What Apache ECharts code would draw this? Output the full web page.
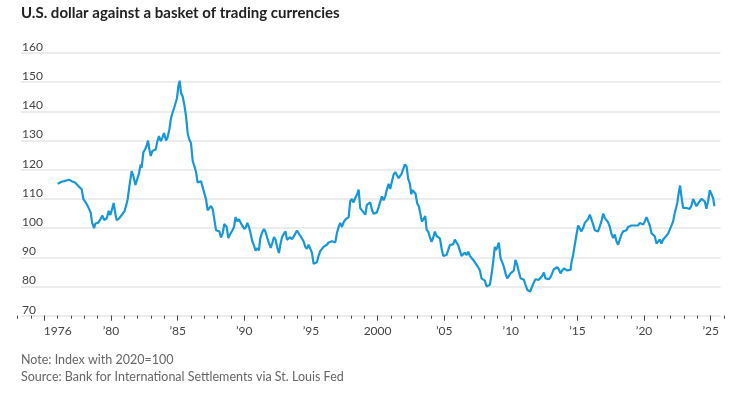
<!DOCTYPE html>
<html><head><meta charset="utf-8">
<script src="https://cdn.jsdelivr.net/npm/echarts@6/dist/echarts.min.js"></script>
<style>html,body{margin:0;padding:0;background:#fff}#c{width:752px;height:394px}</style>
</head><body><div id="c"></div>
<script>
// Decimal years and index values (2020 = 100)
const years = [
1976.00,1976.05,1976.30,1976.48,1976.63,1976.85,1977.05,1977.30,1977.55,1977.68,1977.80,1977.93,
1978.10,1978.23,1978.35,1978.48,1978.58,1978.73,1978.83,1979.05,1979.23,1979.35,1979.48,1979.68,1979.83,1979.95,
1980.08,1980.20,1980.33,1980.43,1980.60,1980.75,1980.88,1981.00,1981.13,1981.25,1981.38,1981.55,1981.68,1981.83,1981.95,
1982.08,1982.23,1982.30,1982.43,1982.55,1982.68,1982.78,1982.88,1982.98,1983.10,1983.23,1983.35,1983.48,1983.60,1983.73,1983.85,1983.98,
1984.13,1984.23,1984.38,1984.50,1984.63,1984.75,1984.85,1984.95,1985.05,1985.15,1985.25,1985.38,1985.50,1985.63,1985.75,1985.88,
1986.00,1986.13,1986.25,1986.38,1986.50,1986.63,1986.75,1986.88,1987.00,1987.13,1987.25,1987.38,1987.50,1987.63,1987.75,1987.88,
1988.00,1988.13,1988.25,1988.38,1988.50,1988.55,1988.68,1988.80,1988.93,1989.10,1989.23,1989.35,1989.48,1989.60,1989.73,1989.85,
1990.00,1990.13,1990.23,1990.35,1990.48,1990.60,1990.73,1990.85,1990.98,1991.10,1991.20,1991.35,1991.48,1991.60,1991.73,1991.85,1991.98,
1992.10,1992.23,1992.35,1992.48,1992.60,1992.73,1992.85,1992.98,1993.10,1993.20,1993.33,1993.45,1993.58,1993.70,1993.83,1993.95,
1994.08,1994.20,1994.33,1994.45,1994.58,1994.70,1994.83,1994.95,1995.08,1995.20,1995.33,1995.45,1995.58,1995.70,1995.83,1995.95,
1996.08,1996.20,1996.33,1996.45,1996.58,1996.70,1996.83,1996.95,1997.08,1997.20,1997.33,1997.45,1997.58,1997.70,1997.83,1997.95,
1998.08,1998.20,1998.33,1998.45,1998.58,1998.70,1998.83,1998.95,1999.08,1999.20,1999.33,1999.45,1999.58,1999.70,1999.83,1999.95,
2000.08,2000.20,2000.33,2000.45,2000.58,2000.70,2000.83,2000.95,2001.08,2001.20,2001.33,2001.45,2001.58,2001.70,2001.80,2001.93,
2002.05,2002.18,2002.30,2002.43,2002.53,2002.63,2002.73,2002.85,2002.98,2003.10,2003.23,2003.33,2003.45,2003.58,2003.68,2003.80,2003.93,
2004.05,2004.18,2004.30,2004.43,2004.55,2004.68,2004.80,2004.93,2005.05,2005.18,2005.30,2005.43,2005.55,2005.68,2005.80,2005.93,
2006.05,2006.18,2006.30,2006.43,2006.55,2006.68,2006.80,2006.93,2007.05,2007.18,2007.30,2007.43,2007.55,2007.68,2007.80,2007.93,
2008.05,2008.18,2008.30,2008.43,2008.55,2008.68,2008.80,2008.88,2008.98,2009.10,2009.23,2009.35,2009.48,2009.60,2009.73,2009.85,2009.98,
2010.10,2010.23,2010.35,2010.48,2010.60,2010.73,2010.85,2010.98,2011.10,2011.23,2011.35,2011.45,2011.60,2011.73,2011.85,2011.98,
2012.10,2012.23,2012.35,2012.48,2012.60,2012.73,2012.85,2012.98,2013.10,2013.23,2013.35,2013.48,2013.60,2013.73,2013.85,2013.98,
2014.10,2014.23,2014.35,2014.48,2014.55,2014.68,2014.80,2014.93,2015.05,2015.18,2015.30,2015.43,2015.55,2015.68,2015.80,2015.93,
2016.05,2016.18,2016.30,2016.43,2016.55,2016.68,2016.80,2016.93,2017.05,2017.18,2017.30,2017.43,2017.55,2017.68,2017.80,2017.93,
2018.05,2018.18,2018.30,2018.43,2018.55,2018.68,2018.80,2018.93,2019.05,2019.18,2019.30,2019.43,2019.55,2019.68,2019.80,2019.93,
2020.05,2020.18,2020.30,2020.43,2020.55,2020.68,2020.80,2020.93,2021.05,2021.18,2021.30,2021.43,2021.55,2021.68,2021.80,2021.93,
2022.05,2022.18,2022.30,2022.43,2022.50,2022.60,2022.70,2022.80,2022.93,2023.05,2023.18,2023.30,2023.43,2023.55,2023.68,2023.80,2023.93,
2024.05,2024.18,2024.30,2024.43,2024.55,2024.68,2024.80,2024.93,2025.05,2025.18,2025.28
];
const values = [
115.2,114.8,115.9,116.1,115.5,116.6,116.1,115.6,114.4,114.7,113.3,109.9,
108.8,107.8,107.8,105.3,101.9,100.0,101.6,101.9,103.3,104.3,102.8,103.4,105.9,104.5,
106.5,108.6,104.8,102.7,103.3,102.8,105.0,105.7,107.6,109.9,114.4,119.5,117.8,114.8,114.4,
118.4,121.8,120.7,126.0,126.9,128.3,130.0,126.9,124.7,126.4,126.6,126.9,129.8,131.5,129.8,130.9,132.6,
130.0,130.9,133.8,137.7,139.7,141.4,141.1,144.5,148.5,150.5,146.3,145.1,142.3,138.3,132.6,130.3,
129.2,123.0,121.3,119.3,115.6,115.3,116.1,116.1,112.0,109.9,106.1,106.5,107.6,106.5,103.1,99.3,
99.1,98.9,96.8,98.2,101.4,101.8,100.4,96.6,97.8,99.2,100.4,103.8,102.3,103.1,101.8,102.0,
99.7,100.4,101.8,100.4,98.1,95.5,94.0,92.3,93.2,92.4,96.6,98.6,99.7,98.6,96.6,94.9,93.2,
94.9,96.9,96.0,93.2,91.5,94.9,97.1,98.1,98.9,96.0,95.5,96.9,96.2,97.1,98.1,99.2,
98.6,97.4,97.1,95.5,93.6,92.9,94.3,94.0,91.5,87.8,87.5,88.3,90.6,92.1,91.5,93.6,
94.0,94.3,95.1,94.6,95.5,94.9,95.1,98.3,100.4,101.8,100.4,102.0,102.9,102.7,103.8,109.2,
110.0,108.8,110.3,111.4,113.2,106.9,106.1,105.7,104.6,108.0,108.6,108.8,106.3,104.9,105.4,105.4,
107.2,107.5,110.9,109.5,110.9,113.2,115.2,113.4,116.0,118.3,119.2,119.4,117.1,116.8,118.6,120.3,
121.8,121.1,116.9,115.2,111.6,113.0,113.5,111.8,108.4,107.5,107.0,102.2,102.7,104.1,99.5,98.8,96.8,
95.3,96.8,98.8,97.3,96.8,96.5,93.1,90.5,90.7,90.8,92.5,94.2,93.6,94.5,96.1,95.0,
94.2,94.4,90.5,90.8,91.6,90.8,91.9,90.5,91.1,89.1,88.5,87.4,86.6,85.5,82.8,83.1,
82.0,80.0,80.6,80.6,84.0,88.5,93.6,92.5,93.4,95.0,89.7,89.3,86.8,84.5,82.8,83.4,84.5,
85.1,85.5,89.1,87.4,85.1,82.8,83.4,82.3,80.6,78.9,78.6,78.3,80.0,81.4,82.5,82.8,
82.3,82.8,83.6,84.8,82.8,82.5,82.5,83.2,84.5,85.9,86.2,86.6,85.9,84.5,85.5,86.2,
85.9,85.5,85.5,85.7,88.3,90.9,94.3,97.8,100.9,100.4,98.9,100.1,101.8,101.5,103.1,104.6,
104.1,101.2,99.3,99.5,98.9,99.5,102.3,105.0,103.5,102.9,102.0,100.4,98.1,96.6,97.8,95.5,
94.3,94.9,97.8,98.9,99.3,99.3,100.4,100.1,100.9,101.2,100.9,101.5,100.9,101.8,101.2,101.2,
102.3,103.8,103.8,100.9,98.3,98.1,97.2,94.7,94.7,96.1,94.7,96.1,96.6,97.4,98.1,99.5,
99.7,102.3,105.2,107.5,108.9,112.1,114.6,110.9,106.9,107.5,106.9,107.5,106.6,107.7,110.0,110.3,107.5,
108.4,108.6,110.0,110.3,109.2,106.6,109.2,113.0,113.2,110.3,107.5
];
const yMin = 70, yMax = 160, yStep = 10;
const tickYearFirst = 1973, tickYearLast = 2026;
const labelYears  = [1976, 1980, 1985, 1990, 1995, 2000, 2005, 2010, 2015, 2020, 2025];
const labelTexts  = ['1976', '\u201980', '\u201985', '\u201990', '\u201995', '2000', '\u201905', '\u201910', '\u201915', '\u201920', '\u201925'];
const titleText = 'U.S. dollar against a basket of trading currencies';
const noteText = 'Note: Index with 2020=100';
const sourceText = 'Source: Bank for International Settlements via St. Louis Fed';

const cats = [];
for (let y = tickYearFirst; y <= tickYearLast; y++) cats.push(String(y));
const labelMap = {};
labelYears.forEach((y, i) => { labelMap[String(y)] = labelTexts[i]; });

const FONT = 'Lato';
const chart = echarts.init(document.getElementById('c'), null, {renderer: 'canvas'});
const gTop = 53, gBottom = 78.3;
chart.setOption({
  animation: false,
  backgroundColor: '#fff',
  title: [
    {text: titleText, left: 21, top: 6, padding: 0,
     textStyle: {fontFamily: FONT, fontSize: 15, fontWeight: 'bold', color: '#222'}},
    {text: noteText, left: 21, top: 353, padding: 0,
     textStyle: {fontFamily: FONT, fontSize: 12.5, fontWeight: 'normal', color: '#666'}},
    {text: sourceText, left: 21, top: 370, padding: 0,
     textStyle: {fontFamily: FONT, fontSize: 12.5, fontWeight: 'normal', color: '#666'}}
  ],
  grid: [
    {left: 21, right: 31.5, top: gTop, bottom: gBottom},
    {left: 17.72, right: 27.95, top: gTop, bottom: gBottom}
  ],
  xAxis: [
    {gridIndex: 0, type: 'value', min: 0, max: 1, show: false},
    {gridIndex: 1, type: 'value', min: tickYearFirst, max: tickYearLast, show: false},
    {gridIndex: 1, type: 'category', data: cats, boundaryGap: false, position: 'bottom',
     axisLine: {show: false},
     axisTick: {show: true, interval: 0, length: 3, lineStyle: {color: '#444', width: 1}},
     axisLabel: {interval: (i, v) => labelMap[v] !== undefined, formatter: v => labelMap[v] || '',
                 margin: 9, fontFamily: FONT, fontSize: 12, color: '#444'},
     splitLine: {show: false}},
    {gridIndex: 1, type: 'category', data: cats, boundaryGap: false, position: 'bottom',
     axisLine: {show: false},
     axisTick: {show: true, interval: (i, v) => (+v) % 5 === 0, length: 5, lineStyle: {color: '#444', width: 1}},
     axisLabel: {show: false}, splitLine: {show: false}}
  ],
  yAxis: [
    {gridIndex: 0, type: 'value', min: yMin, max: yMax, interval: yStep,
     axisLine: {show: false}, axisTick: {show: false},
     axisLabel: {inside: true, margin: 1, align: 'left', verticalAlign: 'bottom',
                 fontFamily: FONT, fontSize: 12, color: '#444'},
     splitLine: {show: true, lineStyle: {color: '#ececec', width: 2}}},
    {gridIndex: 1, type: 'value', min: yMin, max: yMax, show: false}
  ],
  series: [{
    type: 'line', xAxisIndex: 1, yAxisIndex: 1,
    data: years.map((y, i) => [y, values[i]]),
    showSymbol: false, symbol: 'none',
    lineStyle: {color: '#1797d6', width: 2.2},
    itemStyle: {color: '#1797d6'}
  }]
});
</script></body></html>
